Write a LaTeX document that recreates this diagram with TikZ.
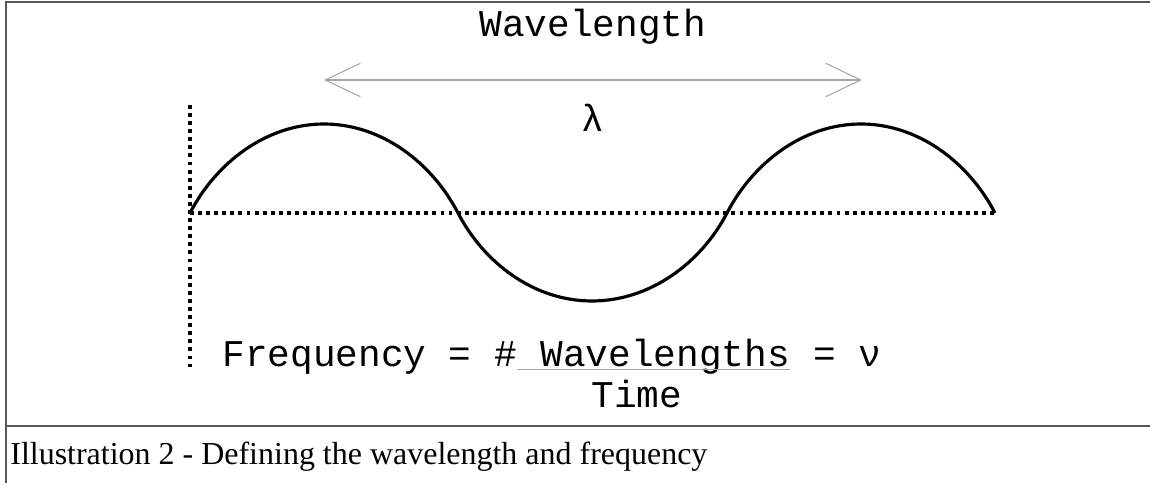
\documentclass[tikz,border=0pt]{standalone}
\usepackage{fontspec}
\setmainfont{Liberation Serif}
\setmonofont{Liberation Mono}
\usetikzlibrary{positioning, arrows.meta}

\begin{document}
\begin{tikzpicture}[
    x=0.02cm, y=-0.02cm,
    frame/.style={line width=1.2pt, draw=black!65},
    dotline/.style={line width=2.2pt, dash pattern=on 2.2pt off 2.4pt},
    wave/.style={line width=1.8pt, draw=black},
    spanarrow/.style={{Straight Barb[length=20pt, width=19pt, line width=0.6pt]}-{Straight Barb[length=20pt, width=19pt, line width=0.6pt]}, line width=1.1pt, draw=black!35},
    fracbar/.style={line width=1.1pt, draw=black!35},
    mono/.style={font=\ttfamily\fontsize{21.5}{24}\selectfont, inner sep=0pt},
    caption/.style={font=\fontsize{18.2}{21}\selectfont, inner sep=0pt}
]
\useasboundingbox (0,0) rectangle (1150,483);

% Frame and caption rule
\draw[frame] (1150,2) -- (6,2) -- (6,483);
\draw[frame] (6,426) -- (1150,426);

% Dotted axes
\draw[dotline] (190,105) -- (190,370);
\draw[dotline] (190,213) -- (995,213);

% The wave
\draw[wave] (190,213) .. controls +(26,-50) and +(-58,0) .. (324,124)
    .. controls +(58,0) and +(-26,-50) .. (458,213)
    .. controls +(26,50) and +(-58,0) .. (592,301)
    .. controls +(58,0) and +(-26,50) .. (727,213)
    .. controls +(26,-50) and +(-58,0) .. (861,124)
    .. controls +(58,0) and +(-26,-50) .. (995,213);

% Wavelength arrow
\coordinate (lamleft) at (324,80);
\coordinate (lamright) at (862,80);
\draw[spanarrow] (lamleft) -- (lamright);
\node[mono] (wavetitle) at (593,27) {Wavelength};
\node[mono] (lambda) at (593,118) {λ};

% Frequency formula
\node[mono, anchor=base west] (freq) at (222,366) {Frequency = \#};
\node[mono, right=12.9pt of freq.base east, anchor=base west] (wavecount) {Wavelengths};
\node[mono, right=12.9pt of wavecount.base east, anchor=base west] (nu) {= ν};
\draw[fracbar] ([yshift=-2pt]freq.base east) -- ([yshift=-2pt]wavecount.base east);
\node[mono, below=3pt of wavecount, xshift=-16pt] (time) {Time};

% Caption
\node[caption, anchor=base west] (caption) at (10,464) {Illustration 2 - Defining the wavelength and frequency};

\end{tikzpicture}
\end{document}
